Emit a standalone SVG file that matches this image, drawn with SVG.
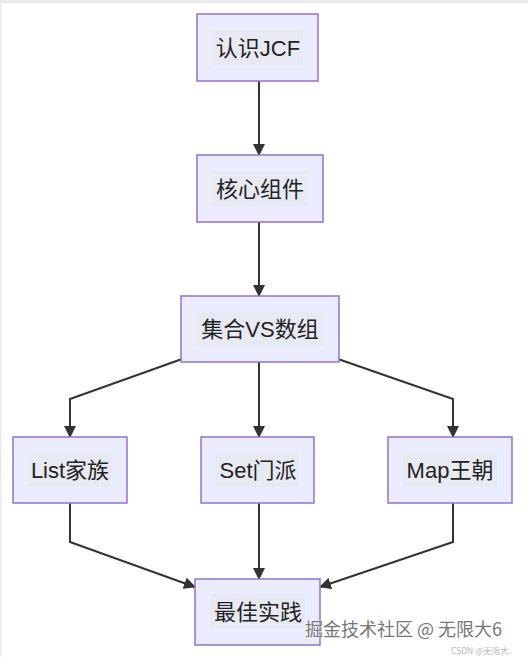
<svg xmlns="http://www.w3.org/2000/svg" width="528" height="657" viewBox="0 0 528 657">
<defs>
<style>
.node rect.box{fill:#ECECFF;stroke:#9370DB;stroke-width:1.5}
.node rect.lbl{fill:#E6E8EE;opacity:0.7}
.node text{font-family:"Liberation Sans","Noto Sans CJK SC",sans-serif;font-size:22px;fill:#222;text-anchor:middle;dominant-baseline:central}
.edges path{fill:none;stroke:#333;stroke-width:2}
.wm{font-family:"Noto Sans CJK SC","Liberation Sans",sans-serif}
</style>
<marker id="arrow" viewBox="0 0 12 12" refX="11" refY="6" markerWidth="12" markerHeight="12" orient="auto" markerUnits="userSpaceOnUse">
<path d="M0,0 L12,6 L0,12 z" fill="#333"/>
</marker>
</defs>
<rect x="0" y="0" width="528" height="657" fill="#ffffff"/>
<rect x="0" y="0" width="528" height="3" fill="#E8EAED"/>
<rect x="0" y="0" width="1.5" height="657" fill="#E8EAED"/>
<g class="edges">
<path d="M259,81 L259,155" marker-end="url(#arrow)"/>
<path d="M259,222 L259,296" marker-end="url(#arrow)"/>
<path d="M182,359 L70,399 L70,437" marker-end="url(#arrow)"/>
<path d="M259,362 L259,437" marker-end="url(#arrow)"/>
<path d="M338,359 L453,399 L453,437" marker-end="url(#arrow)"/>
<path d="M70,503 L70,542 L195,587" marker-end="url(#arrow)"/>
<path d="M259,503 L259,579" marker-end="url(#arrow)"/>
<path d="M453,503 L453,542 L320,587" marker-end="url(#arrow)"/>
</g>
<g id="n1" class="node"><rect class="box" x="197" y="14" width="121" height="67"/><rect class="lbl" x="212" y="30" width="91" height="35"/><text x="258" y="48">认识JCF</text></g>
<g id="n2" class="node"><rect class="box" x="197" y="155" width="126" height="67"/><rect class="lbl" x="212" y="171" width="96" height="35"/><text x="260" y="189">核心组件</text></g>
<g id="n3" class="node"><rect class="box" x="181" y="296" width="158" height="66"/><rect class="lbl" x="196" y="312" width="128" height="35"/><text x="260" y="329">集合VS数组</text></g>
<g id="n4" class="node"><rect class="box" x="13" y="437" width="114" height="66"/><rect class="lbl" x="28" y="452" width="84" height="35"/><text x="70" y="470">List家族</text></g>
<g id="n5" class="node"><rect class="box" x="201" y="437" width="113" height="66"/><rect class="lbl" x="216" y="452" width="83" height="35"/><text x="258" y="470">Set门派</text></g>
<g id="n6" class="node"><rect class="box" x="388" y="437" width="124" height="66"/><rect class="lbl" x="403" y="452" width="94" height="35"/><text x="450" y="470">Map王朝</text></g>
<g id="n7" class="node"><rect class="box" x="195" y="579" width="125" height="66"/><rect class="lbl" x="210" y="594" width="95" height="35"/><text x="258" y="612">最佳实践</text></g>
<text class="wm" x="305" y="636" font-size="18" fill="#777" stroke="#fff" stroke-width="0.6" paint-order="stroke">掘金技术社区 @ 无限大6</text>
<text class="wm" x="451" y="654" font-size="8.5" fill="#bbb">CSDN @无限大.</text>
</svg>
